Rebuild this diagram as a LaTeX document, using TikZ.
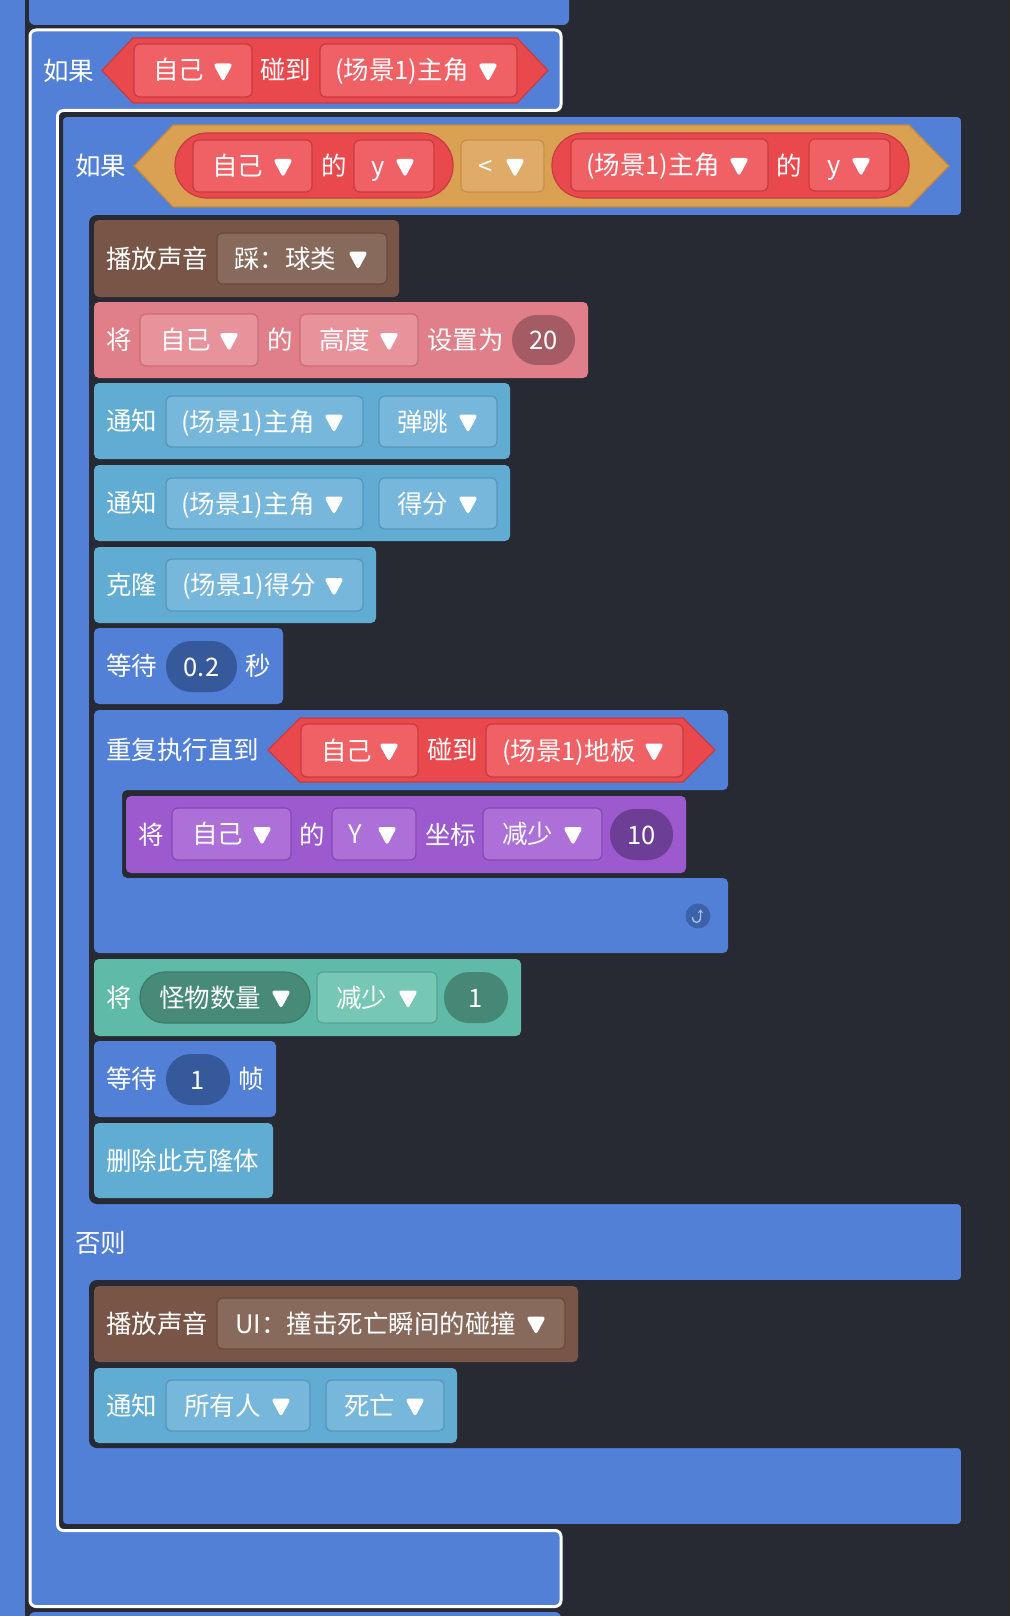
\documentclass[tikz,border=0pt]{standalone}
\usepackage{fontspec}
\newfontfamily\cjk{Noto Sans CJK SC}
\usetikzlibrary{arrows.meta}
\definecolor{bg}{HTML}{282A33}
\definecolor{ctl}{HTML}{5280D7}
\definecolor{redb}{HTML}{E9484D}
\definecolor{reds}{HTML}{C63C42}
\definecolor{redd}{HTML}{F06166}
\definecolor{orng}{HTML}{DBA152}
\definecolor{orngs}{HTML}{C08840}
\definecolor{ltd}{HTML}{E0AB69}
\definecolor{ltds}{HTML}{C3904F}
\definecolor{brown}{HTML}{785546}
\definecolor{brownd}{HTML}{886A5D}
\definecolor{brownds}{HTML}{694A3E}
\definecolor{pink}{HTML}{E07F89}
\definecolor{pinkd}{HTML}{E8939B}
\definecolor{pinkds}{HTML}{C86E78}
\definecolor{pinko}{HTML}{A55B63}
\definecolor{sky}{HTML}{61ACD3}
\definecolor{skyd}{HTML}{76B7DB}
\definecolor{skyds}{HTML}{5598BC}
\definecolor{waito}{HTML}{36599C}
\definecolor{purp}{HTML}{9C5ACE}
\definecolor{purpd}{HTML}{AC70D8}
\definecolor{purpds}{HTML}{844AB4}
\definecolor{purpo}{HTML}{6C3E95}
\definecolor{teal}{HTML}{5FBBA7}
\definecolor{teald}{HTML}{76C7B4}
\definecolor{tealds}{HTML}{56A592}
\definecolor{tealp}{HTML}{478A77}
\definecolor{tealps}{HTML}{3E7A68}
\definecolor{tealo}{HTML}{478776}
\definecolor{iconc}{HTML}{3C63AA}
\definecolor{iconl}{HTML}{A9BFE8}
\newcounter{nn}
\newcommand\lbl[3]{\stepcounter{nn}\node[txt] (t\arabic{nn}) at ({#1},{#2+9.5}) {#3};}
\newcommand\tri[2]{\fill[white,rounded corners=3.5pt] ({#1-10},{#2-7}) -- ({#1+10},{#2-7}) -- ({#1},{#2+11.5}) -- cycle;}
\newcommand\dd[8]{%
  \draw[fill=#5,draw=#6,line width=1.2pt,rounded corners=6pt] (#1,#2) rectangle (#3,#4);
  \lbl{#1+#7}{(#2+#4)/2}{#8}
  \tri{#3-29}{(#2+#4)/2}}
\newcommand\ovl[6]{%
  \fill[#5,rounded corners=25pt] (#1,#2) rectangle (#3,#4);
  \stepcounter{nn}\node[ctxt] (t\arabic{nn}) at ({(#1+#3)/2},{(#2+#4)/2+9.5}) {#6};}
\newcommand\blk[5]{\fill[#5,rounded corners=5pt] (#1,#2) rectangle (#3,#4);}
\begin{document}
\begin{tikzpicture}[x=1pt,y=-1pt,
  txt/.style={anchor=base west,inner sep=0pt,text=white,font=\cjk\fontsize{25.5}{30}\selectfont},
  ctxt/.style={anchor=base,inner sep=0pt,text=white,font=\cjk\fontsize{25.5}{30}\selectfont},
  hexs/.style={line width=1.2pt}]
\fill[bg] (0,0) rectangle (1010,1616);
\useasboundingbox (0,0) rectangle (1010,1616);
% left strip and neighbouring blocks
\fill[ctl] (-5,-5) rectangle (25,1625);
\fill[ctl,rounded corners=6pt] (29,-20) rectangle (569,25);
\fill[ctl,rounded corners=6pt] (29,1612) rectangle (561,1650);
% outer if block (selected)
\draw[fill=ctl,draw=white,line width=3pt,rounded corners=6pt]
  (30,30) -- (561,30) -- (561,110.5) -- (57.5,110.5) -- (57.5,1530.5)
  -- (561,1530.5) -- (561,1606.5) -- (30,1606.5) -- cycle;
\lbl{43}{71}{如果}
\draw[fill=redb,draw=reds,hexs] (102,70.5) -- (133,38) -- (517,38) -- (548,70.5) -- (517,103) -- (133,103) -- cycle;
\dd{134}{44}{252}{97}{redd}{reds}{19}{自己}
\lbl{260}{70.5}{碰到}
\dd{320}{44}{517}{97}{redd}{reds}{15}{(场景1)主角}
% inner if/else block
\draw[fill=ctl,draw=bg,line width=4pt,rounded corners=6pt]
  (61,115) -- (963,115) -- (963,217) -- (91,217) -- (91,1202) -- (963,1202)
  -- (963,1282) -- (91,1282) -- (91,1446) -- (963,1446) -- (963,1526) -- (61,1526) -- cycle;
\lbl{75}{166}{如果}
\draw[fill=orng,draw=orngs,hexs] (134,166) -- (173,125) -- (909,125) -- (949,166) -- (909,207) -- (173,207) -- cycle;
\draw[fill=redb,draw=reds,hexs,rounded corners=32pt] (175,133) rectangle (453,198);
\dd{193}{140}{312}{192}{redd}{reds}{19}{自己}
\lbl{321}{166}{的}
\dd{354}{140}{434}{192}{redd}{reds}{17}{y}
\dd{461}{140}{544}{192}{ltd}{ltds}{17}{<}
\draw[fill=redb,draw=reds,hexs,rounded corners=32pt] (552,133) rectangle (909,198);
\dd{571}{139}{768}{191}{redd}{reds}{15}{(场景1)主角}
\lbl{776}{166}{的}
\dd{809}{139}{890}{191}{redd}{reds}{18}{y}
% then-branch
\blk{94}{220}{399}{297}{brown}
\lbl{106}{258.5}{播放声音}
\dd{217}{233}{387}{284}{brownd}{brownds}{17}{踩：球类}
\blk{94}{302}{588}{378}{pink}
\lbl{106}{340}{将}
\dd{140}{314}{258}{366}{pinkd}{pinkds}{20}{自己}
\lbl{267}{340}{的}
\dd{300}{314}{418}{366}{pinkd}{pinkds}{19}{高度}
\lbl{427}{340}{设置为}
\ovl{512}{315}{575}{365}{pinko}{20}
\blk{94}{383}{510}{459}{sky}
\lbl{106}{421}{通知}
\dd{166}{396}{363}{447}{skyd}{skyds}{15}{(场景1)主角}
\dd{379}{396}{497}{447}{skyd}{skyds}{18}{弹跳}
\blk{94}{465}{510}{541}{sky}
\lbl{106}{503}{通知}
\dd{166}{478}{363}{529}{skyd}{skyds}{15}{(场景1)主角}
\dd{379}{478}{497}{529}{skyd}{skyds}{18}{得分}
\blk{94}{547}{376}{623}{sky}
\lbl{106}{585}{克隆}
\dd{166}{559}{363}{611}{skyd}{skyds}{16}{(场景1)得分}
\blk{94}{628}{283}{704}{ctl}
\lbl{106}{666}{等待}
\ovl{166}{641}{237}{692}{waito}{0.2}
\lbl{245}{666}{秒}
% repeat until
\fill[ctl,rounded corners=5pt] (94,710) -- (728,710) -- (728,790) -- (122,790) -- (122,878)
  -- (728,878) -- (728,953) -- (94,953) -- cycle;
\lbl{106}{750}{重复执行直到}
\draw[fill=redb,draw=reds,hexs] (268,750) -- (300,718) -- (683,718) -- (715,750) -- (683,782) -- (300,782) -- cycle;
\dd{301}{724}{418}{777}{redd}{reds}{20}{自己}
\lbl{427}{750}{碰到}
\dd{486}{724}{683}{777}{redd}{reds}{16}{(场景1)地板}
\blk{126}{796}{686}{873}{purp}
\lbl{138}{834.5}{将}
\dd{172}{808}{291}{860}{purpd}{purpds}{20}{自己}
\lbl{299}{834.5}{的}
\dd{332}{808}{416}{860}{purpd}{purpds}{16}{Y}
\lbl{425}{834.5}{坐标}
\dd{483}{808}{602}{860}{purpd}{purpds}{19}{减少}
\ovl{610}{809}{673}{860}{purpo}{10}
\fill[iconc] (698,916) circle[radius=12.5];
\draw[iconl,line width=1.4pt,-{Stealth[length=3.5pt,width=5.5pt]}] (692.5,917) .. controls (692.5,924) and (700.5,924.5) .. (700.5,917) -- (700.5,909.5);
% change variable
\blk{94}{959}{521}{1036}{teal}
\lbl{106}{997.5}{将}
\draw[fill=tealp,draw=tealps,line width=1.2pt,rounded corners=25pt] (140,972) rectangle (310,1023);
\lbl{159}{997.5}{怪物数量}
\tri{281}{997.5}
\dd{317}{972}{437}{1023}{teald}{tealds}{19}{减少}
\ovl{444}{972}{508}{1023}{tealo}{1}
\blk{94}{1041}{276}{1117}{ctl}
\lbl{106}{1079}{等待}
\ovl{166}{1054}{230}{1105}{waito}{1}
\lbl{238}{1079}{帧}
\blk{94}{1123}{273}{1198}{sky}
\lbl{106}{1160.5}{删除此克隆体}
% else
\lbl{75}{1243}{否则}
\blk{94}{1286}{578}{1362}{brown}
\lbl{106}{1324}{播放声音}
\dd{217}{1298}{565}{1349}{brownd}{brownds}{18}{UI：撞击死亡瞬间的碰撞}
\blk{94}{1368}{457}{1443}{sky}
\lbl{106}{1405.5}{通知}
\dd{166}{1380}{310}{1431}{skyd}{skyds}{18}{所有人}
\dd{326}{1380}{444}{1431}{skyd}{skyds}{18}{死亡}
\end{tikzpicture}
\end{document}
